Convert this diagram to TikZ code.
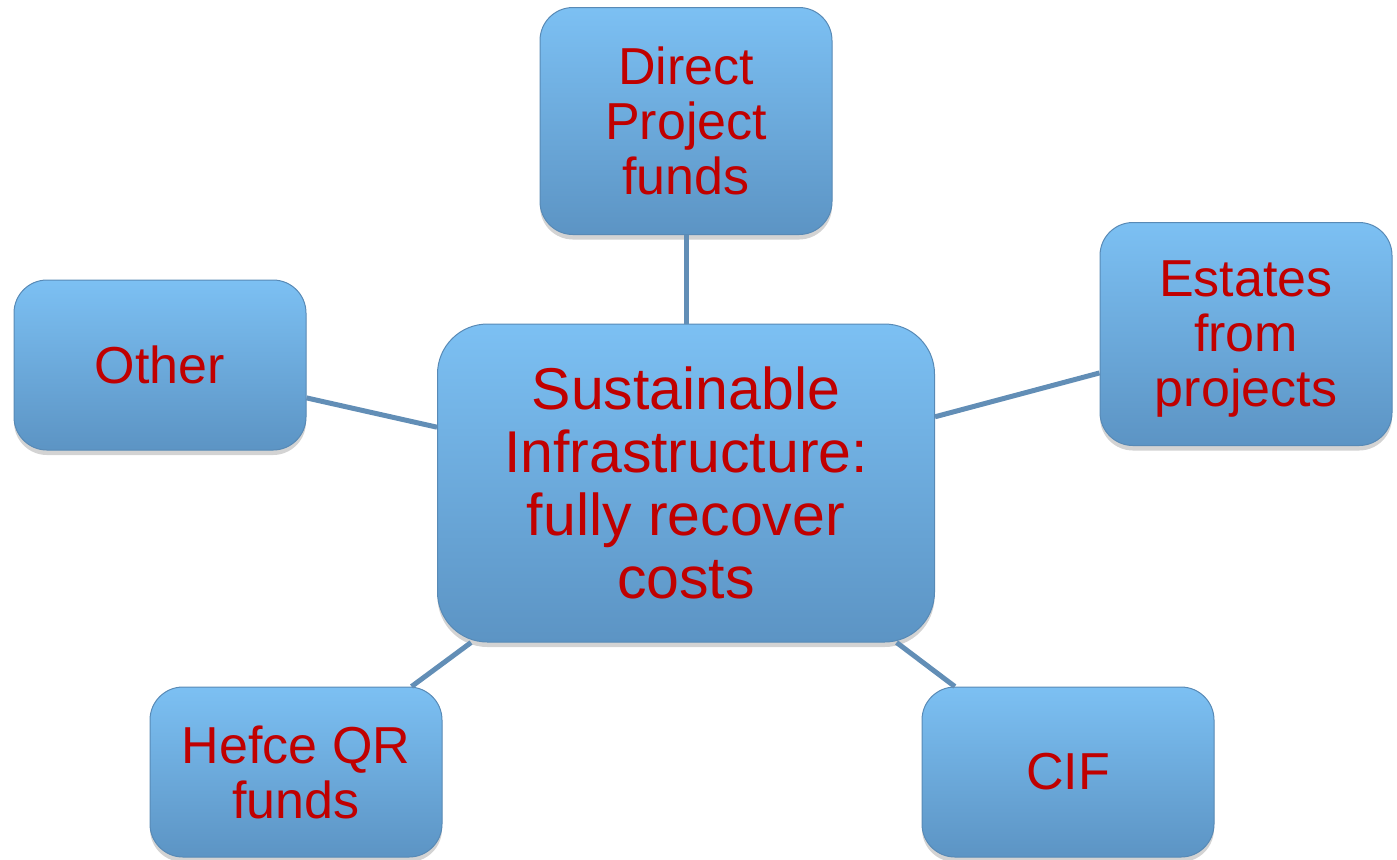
\documentclass[tikz,border=0pt]{standalone}
\usepackage{fontspec}
\setmainfont{Liberation Sans}
\usetikzlibrary{shadows}
\definecolor{boxtop}{RGB}{124,192,243}
\definecolor{boxbottom}{RGB}{92,148,196}
\definecolor{boxline}{RGB}{88,138,182}
\definecolor{linkblue}{RGB}{98,142,182}
\definecolor{textred}{RGB}{192,0,0}
\begin{document}
\begin{tikzpicture}[
  x=0.5pt, y=-0.5pt,
  block/.style={rectangle, rounded corners=16.5pt, draw=boxline, line width=0.5pt,
    top color=boxtop, bottom color=boxbottom,
    drop shadow={opacity=0.35, shadow xshift=0pt, shadow yshift=-2.5pt},
    minimum width=146pt, minimum height=85pt, align=center, text=textred,
    font=\fontsize{26}{27.5}\selectfont},
  link/.style={draw=linkblue, line width=2.5pt}
]
\useasboundingbox (0,0) rectangle (1397,859);

% Central node
\node[block, rounded corners=25pt, minimum width=248.5pt, minimum height=159pt,
  font=\fontsize{29.5}{31.5}\selectfont] (center) at (686,483)
  {Sustainable\\Infrastructure:\\fully recover\\costs};

% Surrounding nodes
\node[block, minimum height=113.5pt] (direct) at (686,121) {Direct\\Project\\funds};
\node[block, minimum height=111.5pt, text depth=0pt] (estates) at (1246,334) {Estates\\from\\projects};
\node[block] (other) at (160,365) {Other};
\node[block] (hefce) at (296,772) {Hefce QR\\funds};
\node[block] (cif) at (1068,772) {CIF};

% Links
\draw[link] (direct) -- (center);
\draw[link] (estates) -- (center);
\draw[link] (other) -- (center);
\draw[link] (hefce) -- (center);
\draw[link] (cif) -- (center);
\end{tikzpicture}
\end{document}
